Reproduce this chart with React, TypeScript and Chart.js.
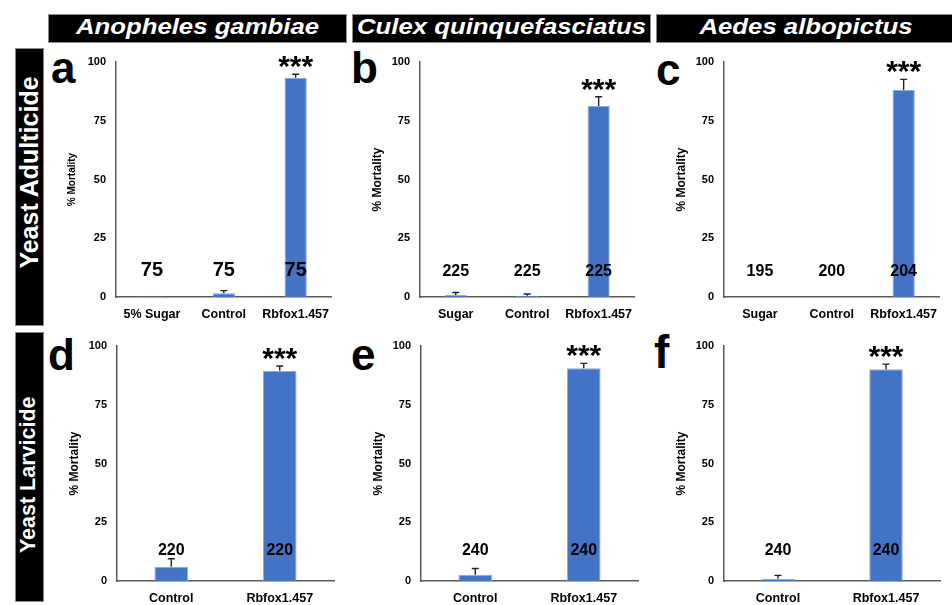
import React, { useEffect, useRef } from 'react';
import { Chart, registerables } from 'chart.js';

Chart.register(...registerables);

const FONT = "'Liberation Sans', Arial, Helvetica, sans-serif";

// ---------- data ----------
const speciesTitles = ['Anopheles gambiae', 'Culex quinquefasciatus', 'Aedes albopictus'];
const rowTitles = ['Yeast Adulticide', 'Yeast Larvicide'];
const panelLetters = ['a', 'b', 'c', 'd', 'e', 'f'];
const yTickValues = [0, 25, 50, 75, 100];
const yTitle = '% Mortality';

const catsA = ['5% Sugar', 'Control', 'Rbfox1.457'];
const catsBC = ['Sugar', 'Control', 'Rbfox1.457'];
const catsLarva = ['Control', 'Rbfox1.457'];

const mortA = [0.2, 1.6, 93.3];
const errA = [0, 1.1, 1.5];
const nA = ['75', '75', '75'];
const sigA = ['', '', '***'];

const mortB = [0.8, 0.5, 81.3];
const errB = [1.1, 0.8, 3.9];
const nB = ['225', '225', '225'];
const sigB = ['', '', '***'];

const mortC = [0, 0, 88.1];
const errC = [0, 0, 4.5];
const nC = ['195', '200', '204'];
const sigC = ['', '', '***'];

const mortD = [6.1, 89.5];
const errD = [3.4, 2.0];
const nD = ['220', '220'];
const sigD = ['', '***'];

const mortE = [2.7, 90.5];
const errE = [2.6, 2.1];
const nE = ['240', '240'];
const sigE = ['', '***'];

const mortF = [1.0, 90.1];
const errF = [1.4, 2.2];
const nF = ['240', '240'];
const sigF = ['', '***'];

type PanelDef = {
  cats: string[];
  values: number[];
  errs: number[];
  ns: string[];
  sig: string[];
  axisX: number;
  endX: number;
  topY: number;
  zeroY: number;
  bottom: number;
  nFont: number;
  nLevel: number;
  titleFont: number;
};

const Y_AXIS_W = 60;
const PAD_TOP = 24;
const PAD_RIGHT = 6;

function Panel({ d }: { d: PanelDef }) {
  const ref = useRef<HTMLCanvasElement>(null);
  const left = d.axisX - Y_AXIS_W;
  const top = d.topY - PAD_TOP;
  const width = d.endX - left + PAD_RIGHT;
  const height = d.bottom - top;
  const xH = d.bottom - d.zeroY;

  useEffect(() => {
    if (!ref.current) return;
    const annot = {
      id: 'annot',
      afterDatasetsDraw(chart: any) {
        const ctx = chart.ctx;
        const ys = chart.scales.y;
        const meta = chart.getDatasetMeta(0);
        ctx.save();
        meta.data.forEach((bar: any, i: number) => {
          const x = bar.x;
          const v = d.values[i];
          const e = d.errs[i];
          const yTop = ys.getPixelForValue(v + e);
          if (e > 0) {
            const yV = ys.getPixelForValue(v);
            ctx.strokeStyle = '#222';
            ctx.lineWidth = 1.4;
            ctx.beginPath();
            ctx.moveTo(x, yV);
            ctx.lineTo(x, yTop);
            ctx.moveTo(x - 3.5, yTop);
            ctx.lineTo(x + 3.5, yTop);
            ctx.stroke();
          }
          ctx.fillStyle = '#000';
          ctx.textAlign = 'center';
          ctx.textBaseline = 'alphabetic';
          if (d.sig[i]) {
            ctx.font = `bold 30px ${FONT}`;
            ctx.fillText(d.sig[i], x, yTop + 2);
          }
          ctx.font = `bold ${d.nFont}px ${FONT}`;
          ctx.fillText(d.ns[i], x, ys.getPixelForValue(d.nLevel));
        });
        ctx.restore();
      },
    };

    const chart = new Chart(ref.current, {
      type: 'bar',
      data: {
        labels: d.cats,
        datasets: [
          {
            data: d.values,
            backgroundColor: '#4472C4',
            borderColor: '#8FAADC',
            borderWidth: 1,
            barPercentage: 0.31,
            categoryPercentage: 1,
          },
        ],
      },
      options: {
        animation: false,
        responsive: false,
        maintainAspectRatio: false,
        layout: { padding: { top: PAD_TOP, right: PAD_RIGHT, left: 0, bottom: 0 } },
        plugins: { legend: { display: false }, tooltip: { enabled: false } },
        scales: {
          x: {
            grid: { display: false, drawTicks: false },
            border: { display: true, color: '#595959', width: 1.5 },
            ticks: {
              color: '#000',
              font: { family: FONT, size: 12.5, weight: 'bold' },
              padding: 10,
              maxRotation: 0,
              autoSkip: false,
            },
            afterFit: (s: any) => {
              s.height = xH;
            },
          },
          y: {
            min: 0,
            max: 100,
            grid: { display: false, drawTicks: false },
            border: { display: true, color: '#595959', width: 1.5 },
            ticks: {
              color: '#000',
              font: { family: FONT, size: 11, weight: 'bold' },
              padding: 10,
            },
            afterBuildTicks: (s: any) => {
              s.ticks = yTickValues.map((v) => ({ value: v }));
            },
            title: {
              display: true,
              text: yTitle,
              color: '#000',
              font: { family: FONT, size: d.titleFont, weight: 'bold' },
              padding: { top: 10, bottom: 0 },
            },
            afterFit: (s: any) => {
              s.width = Y_AXIS_W;
            },
          },
        },
      } as any,
      plugins: [annot],
    });
    return () => chart.destroy();
  }, []);

  return (
    <canvas
      ref={ref}
      width={width}
      height={height}
      style={{ position: 'absolute', left, top, width, height, display: 'block' }}
    />
  );
}

const ROW1 = { topY: 62, zeroY: 297, bottom: 327 };
const ROW2 = { topY: 346, zeroY: 581, bottom: 605 };

const panels: PanelDef[] = [
  { cats: catsA, values: mortA, errs: errA, ns: nA, sig: sigA, axisX: 116, endX: 334, ...ROW1, nFont: 20, nLevel: 8.8, titleFont: 10 },
  { cats: catsBC, values: mortB, errs: errB, ns: nB, sig: sigB, axisX: 420, endX: 637, ...ROW1, nFont: 16, nLevel: 8.8, titleFont: 12 },
  { cats: catsBC, values: mortC, errs: errC, ns: nC, sig: sigC, axisX: 724, endX: 942, ...ROW1, nFont: 16, nLevel: 8.8, titleFont: 12 },
  { cats: catsLarva, values: mortD, errs: errD, ns: nD, sig: sigD, axisX: 117, endX: 334, ...ROW2, nFont: 16, nLevel: 10.9, titleFont: 12 },
  { cats: catsLarva, values: mortE, errs: errE, ns: nE, sig: sigE, axisX: 421, endX: 638, ...ROW2, nFont: 16, nLevel: 10.9, titleFont: 12 },
  { cats: catsLarva, values: mortF, errs: errF, ns: nF, sig: sigF, axisX: 724, endX: 940, ...ROW2, nFont: 16, nLevel: 10.9, titleFont: 12 },
];

const headerBoxes = [
  { left: 48, width: 299 },
  { left: 352, width: 299 },
  { left: 656, width: 300 },
];

const rowBoxes = [
  { top: 48, height: 278, cy: 172, size: 25 },
  { top: 332, height: 270, cy: 475, size: 21.5 },
];

const letterPos = [
  { left: 51, base: 83, size: 44 },
  { left: 351, base: 83, size: 44 },
  { left: 656, base: 85, size: 44 },
  { left: 48, base: 370, size: 44 },
  { left: 351, base: 370, size: 44 },
  { left: 654, base: 368, size: 46 },
];

export default function App() {
  return (
    <div
      style={{
        position: 'absolute',
        left: 0,
        top: 0,
        width: 952,
        height: 605,
        background: '#fff',
        overflow: 'hidden',
        fontFamily: FONT,
      }}
    >
      {headerBoxes.map((b, i) => (
        <div
          key={'h' + i}
          style={{
            position: 'absolute',
            left: b.left,
            top: 14,
            width: b.width,
            height: 29,
            background: '#000',
            boxSizing: 'border-box',
            border: '1px solid #8a8a8a',
          }}
        >
          <div
            style={{
              position: 'absolute',
              left: 0,
              right: 0,
              top: 1,
              lineHeight: '22px',
              fontSize: 22,
              fontWeight: 'bold',
              fontStyle: 'italic',
              color: '#fff',
              textAlign: 'center',
              whiteSpace: 'nowrap',
              transform: 'scaleX(1.17)',
              transformOrigin: 'center',
            }}
          >
            {speciesTitles[i]}
          </div>
        </div>
      ))}
      {rowBoxes.map((b, i) => (
        <div
          key={'r' + i}
          style={{
            position: 'absolute',
            left: 15,
            top: b.top,
            width: 29,
            height: b.height,
            background: '#000',
            boxSizing: 'border-box',
            border: '1px solid #8a8a8a',
          }}
        />
      ))}
      {rowBoxes.map((b, i) => {
        const w = 300;
        const cx = 29.4;
        return (
          <div
            key={'rt' + i}
            style={{
              position: 'absolute',
              left: cx - w / 2,
              top: b.cy - b.size / 2,
              width: w,
              height: b.size,
              lineHeight: b.size + 'px',
              fontSize: b.size,
              fontWeight: 'bold',
              color: '#fff',
              textAlign: 'center',
              whiteSpace: 'nowrap',
              transform: 'rotate(-90deg)',
              transformOrigin: 'center',
            }}
          >
            {rowTitles[i]}
          </div>
        );
      })}
      {letterPos.map((l, i) => (
        <div
          key={'l' + i}
          style={{
            position: 'absolute',
            left: l.left,
            top: l.base - 0.8465 * l.size,
            fontSize: l.size,
            lineHeight: l.size + 'px',
            fontWeight: 'bold',
            color: '#000',
          }}
        >
          {panelLetters[i]}
        </div>
      ))}
      {panels.map((p, i) => (
        <Panel key={'p' + i} d={p} />
      ))}
    </div>
  );
}
